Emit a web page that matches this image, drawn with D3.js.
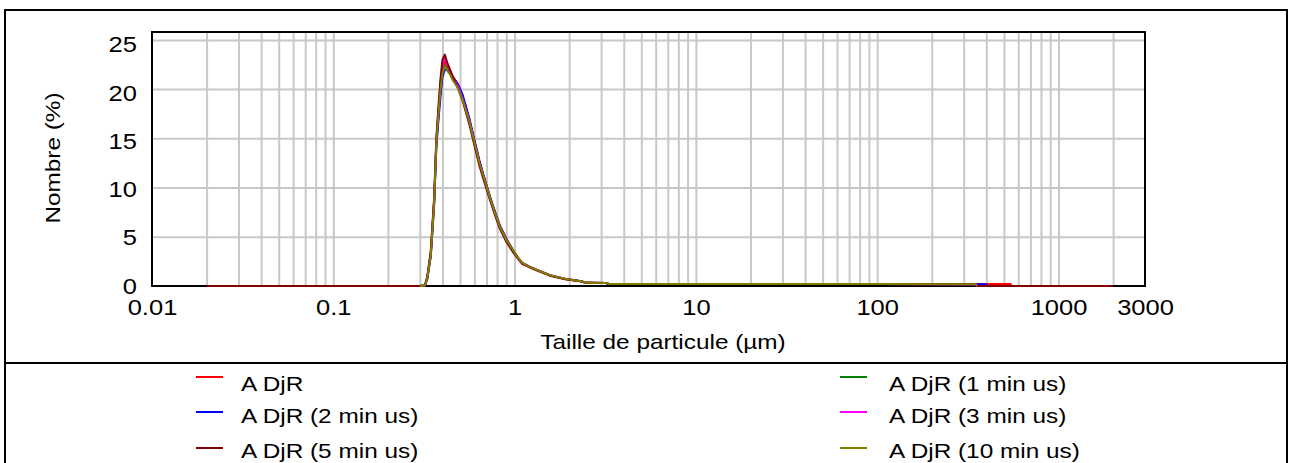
<!DOCTYPE html>
<html><head><meta charset="utf-8">
<script src="https://cdn.jsdelivr.net/npm/d3@7"></script>
<style>body{margin:0;background:#fff}svg{display:block}text{font-family:"Liberation Sans",Arial,sans-serif;fill:#000}</style>
</head><body><svg id="c" width="1290" height="463"></svg>
<script>
// ---- data ----
const sizes = [0.02,0.1,0.3,0.32,0.33,0.345,0.36,0.37,0.38,0.39,0.40,0.412,0.425,0.44,0.456,0.487,0.517,0.565,0.60,0.64,0.68,0.73,0.78,0.83,0.90,0.975,1.04,1.10,1.26,1.56,1.93,2.37,2.45,3.2,3.3,10,100,350,355,400,405,545,550,2000];
const seriesNames = ["A DjR","A DjR (1 min us)","A DjR (2 min us)","A DjR (3 min us)","A DjR (5 min us)","A DjR (10 min us)"];
const seriesColors = ["#ff0000","#008000","#0000ff","#ff00ff","#800000","#808000"];
const vRed     = [null,null,0,0.05,0.8,3.3,8.7,14.6,17.5,20.0,22.0,22.8,22.3,21.9,21.3,20.5,19.3,16.8,14.8,12.7,11.0,9.1,7.5,6.1,4.8,3.7,2.9,2.35,1.8,1.1,0.7,0.45,0.32,0.3,0.2,0.2,0.2,0.18,0.2,0.2,0.2,0.2,0,null];
const vGreen   = [null,null,0,0.05,0.8,3.2,8.5,14.4,17.3,19.8,21.6,22.4,22.0,21.6,21.0,20.2,19.0,16.6,14.6,12.5,10.9,9.0,7.4,6.0,4.7,3.7,2.9,2.35,1.8,1.1,0.7,0.45,0.32,0.3,0.2,0.2,0.2,0.18,0,null,null,null,null,null];
const vBlue    = [null,null,0,0.05,0.7,3.0,8.2,14.0,16.8,19.2,21.2,22.0,21.9,21.6,21.2,20.5,19.4,16.9,14.8,12.7,11.0,9.1,7.5,6.1,4.8,3.7,2.9,2.35,1.8,1.1,0.7,0.45,0.32,0.3,0.2,0.2,0.2,0.18,0.18,0.18,0,null,null,null];
const vMagenta = [null,null,0,0.05,0.9,3.4,8.8,14.8,17.8,20.5,22.5,23.1,22.5,21.9,21.2,20.3,19.0,16.6,14.5,12.4,10.8,8.9,7.3,5.9,4.6,3.6,2.85,2.3,1.8,1.1,0.7,0.45,0.32,0.3,0.2,0.2,0.2,0.18,0,null,null,null,null,null];
const vDarkRed = [0,0,0,0.05,1.0,3.6,9.0,15.0,18.2,21.0,23.0,23.5,22.7,22.0,21.2,20.1,18.8,16.3,14.3,12.2,10.6,8.8,7.2,5.8,4.5,3.5,2.8,2.25,1.75,1.05,0.65,0.45,0.32,0.3,0.2,0.2,0.2,0.18,0,0,0,0,0,0];
const vOlive   = [null,null,0,0.05,0.8,3.2,8.5,14.5,17.4,19.9,21.6,22.3,21.9,21.5,20.9,20.1,18.9,16.6,14.6,12.5,10.9,9.0,7.4,6.0,4.7,3.7,2.9,2.35,1.8,1.1,0.7,0.45,0.32,0.3,0.2,0.2,0.2,0.18,0,null,null,null,null,null];
const seriesValues = [vRed,vGreen,vBlue,vMagenta,vDarkRed,vOlive];
const xTickValues = [0.01,0.1,1,10,100,1000,3000];
const xTickLabels = ["0.01","0.1","1","10","100","1000","3000"];
const yTickValues = [0,5,10,15,20,25];
const xLabel = "Taille de particule (µm)";
const yLabel = "Nombre (%)";

// ---- layout ----
const SX = 1.16;
const L = 152, R = 1145, T = 32, B = 286;
const svg = d3.select("#c");
const x = d3.scaleLog().domain([0.01,3000]).range([L,R]);
const y = d3.scaleLinear().domain([0,25.8]).range([B,T]);

svg.append("rect").attr("x",5).attr("y",10).attr("width",1282).attr("height",462)
  .attr("fill","#fff").attr("stroke","#000").attr("stroke-width",2);
svg.append("line").attr("x1",5).attr("x2",1287).attr("y1",363).attr("y2",363)
  .attr("stroke","#000").attr("stroke-width",2);

// grid
const gridX = [];
[0.01,0.1,1,10,100,1000].forEach(d=>{for(let k=1;k<=9;k++){const v=k*d; if(v>0.01 && v<=2000) gridX.push(v);}});
const gx = svg.append("g").attr("transform",`translate(0,${B})`)
  .call(d3.axisBottom(x).tickValues(gridX).tickFormat("").tickSize(-(B-T)));
gx.select(".domain").remove();
gx.selectAll("line").attr("stroke","#c8c8c8").attr("stroke-width",2);
const gy = svg.append("g").attr("transform",`translate(${L},0)`)
  .call(d3.axisLeft(y).tickValues([5,10,15,20,25]).tickFormat("").tickSize(-(R-L)));
gy.select(".domain").remove();
gy.selectAll("line").attr("stroke","#c8c8c8").attr("stroke-width",2);

// frame
svg.append("rect").attr("x",L).attr("y",T).attr("width",R-L).attr("height",B-T)
  .attr("fill","none").attr("stroke","#000").attr("stroke-width",2);

// series
const line = d3.line().defined(d=>d[1]!=null).x(d=>x(d[0])).y(d=>y(d[1]));
seriesValues.forEach((vals,i)=>{
  svg.append("path").datum(sizes.map((s,j)=>[s,vals[j]]))
    .attr("d",line).attr("fill","none").attr("stroke",seriesColors[i])
    .attr("stroke-width",2).attr("stroke-linejoin","round");
});

// axes labels
const ax = svg.append("g").attr("transform",`translate(0,${B})`)
  .call(d3.axisBottom(x).tickValues(xTickValues).tickFormat((d,i)=>xTickLabels[i]).tickSize(0));
ax.select(".domain").remove();
ax.selectAll("text").attr("y",29).attr("dy",0).attr("font-size",22).attr("fill","#000")
  .attr("font-family",null).attr("transform",`scale(${SX},1)`);
const ay = svg.append("g").attr("transform",`translate(${L},0)`)
  .call(d3.axisLeft(y).tickValues(yTickValues).tickSize(0));
ay.select(".domain").remove();
ay.selectAll("text").attr("x",-15/SX).attr("dy",0).attr("y",d=>7.3+d*0.18).attr("font-size",22).attr("fill","#000")
  .attr("font-family",null).attr("transform",`scale(${SX},1)`);

svg.append("text").attr("transform",`translate(663,349) scale(${SX},1)`)
  .attr("text-anchor","middle").attr("font-size",21).text(xLabel);
svg.append("text").attr("transform",`translate(60,158) rotate(-90) scale(${SX},1)`)
  .attr("text-anchor","middle").attr("font-size",21).text(yLabel);

// legend
const legX = [[196,241],[840,889]];
const legLineY = [377,412,448];
const legTextY = [391,422.5,457.5];
seriesNames.forEach((n,i)=>{
  const col = i%2, row = Math.floor(i/2);
  svg.append("line").attr("x1",legX[col][0]).attr("x2",legX[col][0]+27)
    .attr("y1",legLineY[row]).attr("y2",legLineY[row])
    .attr("stroke",seriesColors[i]).attr("stroke-width",2);
  svg.append("text").attr("transform",`translate(${legX[col][1]},${legTextY[row]}) scale(${SX},1)`)
    .attr("font-size",21).text(n);
});
</script></body></html>
